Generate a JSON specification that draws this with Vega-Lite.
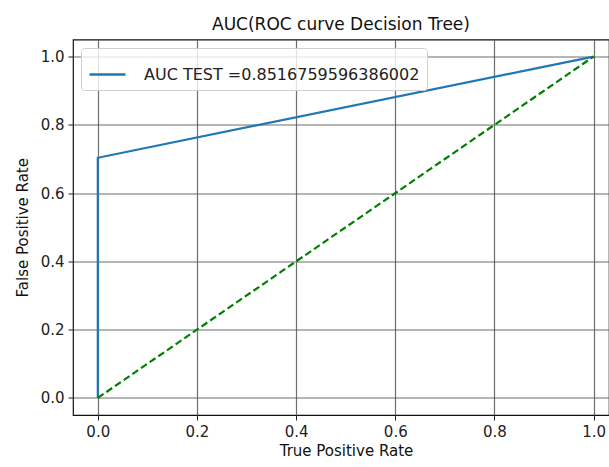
{
  "$schema": "https://vega.github.io/schema/vega-lite/v6.json",
  "width": 536,
  "height": 375.5,
  "autosize": {"type": "none"},
  "padding": {"left": 73, "top": 39.5, "right": 0, "bottom": 52},
  "background": "white",
  "title": {
    "text": "AUC(ROC curve Decision Tree)",
    "font": "DejaVu Sans",
    "fontSize": 17,
    "fontWeight": "normal",
    "color": "#111",
    "offset": 6
  },
  "config": {
    "view": {"stroke": "#111", "strokeWidth": 1.2},
    "axis": {
      "labelFont": "DejaVu Sans",
      "labelFontSize": 15,
      "labelColor": "#222",
      "titleFont": "DejaVu Sans",
      "titleFontSize": 15,
      "titleFontWeight": "normal",
      "titleColor": "#111",
      "tickColor": "#222",
      "tickSize": 5,
      "tickWidth": 1,
      "gridColor": "#555",
      "gridOpacity": 0.85,
      "gridWidth": 1.2,
      "domain": false
    }
  },
  "datasets": {
    "roc": [
      {"fpr": 0, "tpr": 0, "series": "AUC TEST =0.8516759596386002"},
      {"fpr": 0, "tpr": 0.7035, "series": "AUC TEST =0.8516759596386002"},
      {"fpr": 1, "tpr": 1, "series": "AUC TEST =0.8516759596386002"}
    ],
    "diag": [
      {"fpr": 0, "tpr": 0},
      {"fpr": 1, "tpr": 1}
    ]
  },
  "layer": [
    {
      "data": {"name": "roc"},
      "mark": {"type": "line", "strokeWidth": 2.2, "clip": true},
      "encoding": {
        "x": {
          "field": "fpr", "type": "quantitative",
          "scale": {"domain": [-0.05, 1.031], "nice": false, "zero": false},
          "axis": {"values": [0, 0.2, 0.4, 0.6, 0.8, 1.0], "format": ".1f", "title": "True Positive Rate", "labelPadding": 4, "titlePadding": 4, "titleX": 273}
        },
        "y": {
          "field": "tpr", "type": "quantitative",
          "scale": {"domain": [-0.05, 1.05], "nice": false, "zero": false},
          "axis": {"values": [0, 0.2, 0.4, 0.6, 0.8, 1.0], "format": ".1f", "title": "False Positive Rate", "labelPadding": 4, "titlePadding": 10}
        },
        "color": {
          "field": "series", "type": "nominal",
          "scale": {"range": ["#1f77b4"]},
          "legend": {
            "title": null,
            "orient": "none",
            "legendX": 8,
            "legendY": 8.5,
            "symbolType": "stroke",
            "symbolSize": 1296,
            "symbolStrokeWidth": 2.5,
            "labelFont": "DejaVu Sans",
            "labelFontSize": 16,
            "labelColor": "#222",
            "labelOffset": 17,
            "labelLimit": 500,
            "fillColor": "rgba(255,255,255,0.8)",
            "strokeColor": "#d0d0d0",
            "cornerRadius": 3,
            "padding": 7
          }
        },
        "order": {"field": "tpr", "type": "quantitative"}
      }
    },
    {
      "data": {"name": "diag"},
      "mark": {"type": "line", "color": "#008000", "strokeWidth": 2.2, "strokeDash": [7, 3.5], "clip": true},
      "encoding": {
        "x": {"field": "fpr", "type": "quantitative"},
        "y": {"field": "tpr", "type": "quantitative"}
      }
    }
  ]
}
